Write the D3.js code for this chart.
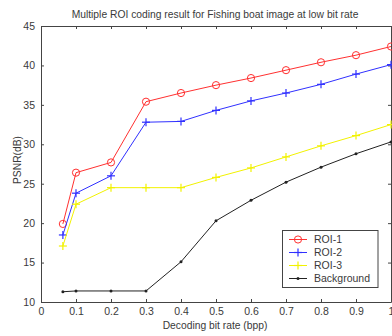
<!DOCTYPE html>
<html>
<head>
<meta charset="utf-8">
<script src="https://cdn.jsdelivr.net/npm/d3@7"></script>
<style>
  body { margin: 0; background: #fff; }
  svg { font-family: "Liberation Sans", Arial, sans-serif; }
</style>
</head>
<body>
<svg id="chart" width="392" height="336"></svg>
<script>
// bit rates (bpp)
var rates = [0.0625, 0.1, 0.2, 0.3, 0.4, 0.5, 0.6, 0.7, 0.8, 0.9, 1.0];

// PSNR values
var roi1 = [19.9, 26.4, 27.7, 35.4, 36.5, 37.5, 38.4, 39.4, 40.4, 41.3, 42.4];
var roi2 = [18.5, 23.8, 26.0, 32.8, 32.9, 34.3, 35.5, 36.5, 37.6, 38.9, 40.1];
var roi3 = [17.1, 22.4, 24.5, 24.5, 24.5, 25.8, 27.0, 28.4, 29.8, 31.1, 32.5];
var background = [11.3, 11.4, 11.4, 11.4, 15.1, 20.3, 22.9, 25.2, 27.1, 28.8, 30.3];

var seriesNames = ["ROI-1", "ROI-2", "ROI-3", "Background"];
var seriesColors = ["#ff3030", "#3030ff", "#f2f200", "#222222"];
var seriesMarkers = ["circle", "plus", "plus", "dot"];

var xTicks = [0, 0.1, 0.2, 0.3, 0.4, 0.5, 0.6, 0.7, 0.8, 0.9, 1];
var yTicks = [10, 15, 20, 25, 30, 35, 40, 45];

var plotLeft = 41, plotRight = 391, plotTop = 26, plotBottom = 302;

var svg = d3.select("#chart");

var x = d3.scaleLinear().domain([0, 1]).range([plotLeft, plotRight]);
var y = d3.scaleLinear().domain([10, 45]).range([plotBottom, plotTop]);

var axisColor = "#444";
var textColor = "#3a3a3a";

// axes: ticks pointing inward, box around plot
var xAxis = svg.append("g").attr("transform", "translate(0," + plotBottom + ")")
    .call(d3.axisBottom(x).tickValues(xTicks).tickSizeInner(-3).tickSizeOuter(0).tickPadding(6)
        .tickFormat(function(d){ return d === 0 || d === 1 ? d : d3.format(".1f")(d); }));
var yAxis = svg.append("g").attr("transform", "translate(" + plotLeft + ",0)")
    .call(d3.axisLeft(y).tickValues(yTicks).tickSizeInner(-3).tickSizeOuter(0).tickPadding(6));
var xTop = svg.append("g").attr("transform", "translate(0," + plotTop + ")")
    .call(d3.axisTop(x).tickValues(xTicks).tickSizeInner(-3).tickSizeOuter(0).tickFormat(""));
var yRight = svg.append("g").attr("transform", "translate(" + plotRight + ",0)")
    .call(d3.axisRight(y).tickValues(yTicks).tickSizeInner(-3).tickSizeOuter(0).tickFormat(""));

[xAxis, yAxis, xTop, yRight].forEach(function(g){
    g.selectAll("path, line").attr("stroke", axisColor).attr("stroke-width", 1);
    g.selectAll("text").attr("fill", textColor).attr("font-size", "10.5px")
        .attr("font-family", "Liberation Sans, Arial, sans-serif");
});

// lines and markers
var allSeries = [roi1, roi2, roi3, background];
var line = d3.line().x(function(d, i){ return x(rates[i]); }).y(function(d){ return y(d); });

function drawMarker(g, kind, cx, cy, color){
    if(kind === "circle"){
        g.append("circle").attr("cx", cx).attr("cy", cy).attr("r", 3.6)
            .attr("fill", "none").attr("stroke", color).attr("stroke-width", 1);
    }
    else if(kind === "plus"){
        g.append("line").attr("x1", cx - 4).attr("x2", cx + 4).attr("y1", cy).attr("y2", cy)
            .attr("stroke", color).attr("stroke-width", 1.2);
        g.append("line").attr("x1", cx).attr("x2", cx).attr("y1", cy - 4).attr("y2", cy + 4)
            .attr("stroke", color).attr("stroke-width", 1.2);
    }
    else{
        g.append("circle").attr("cx", cx).attr("cy", cy).attr("r", 1.5).attr("fill", color);
    }
}

allSeries.forEach(function(s, k){
    var g = svg.append("g");
    g.append("path").datum(s).attr("d", line).attr("fill", "none")
        .attr("stroke", seriesColors[k]).attr("stroke-width", 1);
    s.forEach(function(v, i){
        drawMarker(g, seriesMarkers[k], x(rates[i]), y(v), seriesColors[k]);
    });
});

// legend
var legend = svg.append("g");
legend.append("rect").attr("x", 282.5).attr("y", 230.5).attr("width", 95.5).attr("height", 57)
    .attr("fill", "#fff").attr("stroke", axisColor).attr("stroke-width", 1);
seriesNames.forEach(function(name, k){
    var ly = 239.5 + k * 13;
    legend.append("line").attr("x1", 289).attr("x2", 307).attr("y1", ly).attr("y2", ly)
        .attr("stroke", seriesColors[k]).attr("stroke-width", 1);
    drawMarker(legend, seriesMarkers[k], 298, ly, seriesColors[k]);
    legend.append("text").attr("x", 314).attr("y", ly + 3.8).attr("font-size", "10.5px")
        .attr("fill", textColor).text(name);
});

// title and axis labels
svg.append("text").attr("x", 215).attr("y", 18).attr("text-anchor", "middle")
    .attr("font-size", "10.3px").attr("fill", textColor)
    .text("Multiple ROI coding result for Fishing boat image at low bit rate");
svg.append("text").attr("x", 215).attr("y", 329).attr("text-anchor", "middle")
    .attr("font-size", "10.3px").attr("fill", textColor)
    .text("Decoding bit rate (bpp)");
svg.append("text").attr("transform", "translate(21,160) rotate(-90)").attr("text-anchor", "middle")
    .attr("font-size", "10.3px").attr("fill", textColor)
    .text("PSNR(dB)");
</script>
</body>
</html>
